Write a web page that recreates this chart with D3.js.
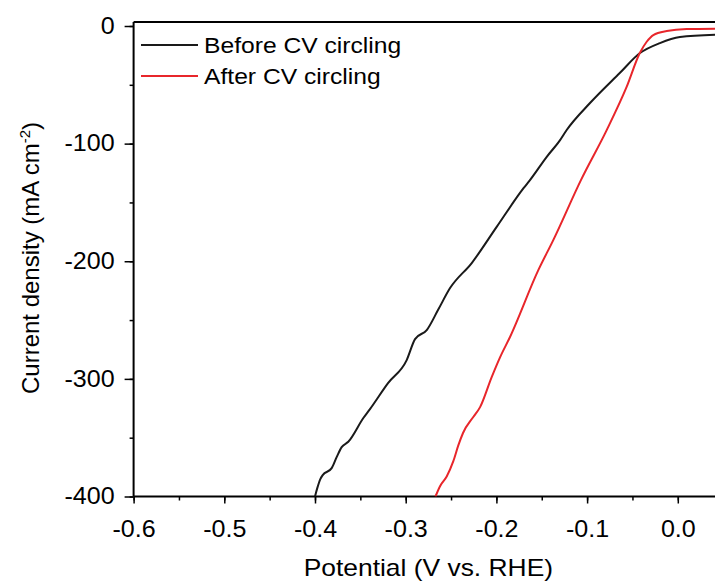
<!DOCTYPE html>
<html>
<head>
<meta charset="utf-8">
<script src="https://cdn.jsdelivr.net/npm/d3@7"></script>
<style>
  body { margin: 0; background: #fff; }
  text { font-family: "Liberation Sans", Arial, sans-serif; fill: #000; }
</style>
</head>
<body>
<div id="display"></div>
<script>
const W = 715, H = 583
const margin = {top: 22, left: 133.6, bottom: 86.5}

// potential (V vs RHE) and current density (mA cm-2)
const beforeV = [-0.400, -0.3975, -0.394, -0.3915, -0.3816, -0.376, -0.3706, -0.3633, -0.3467, -0.3394,
  -0.3195, -0.2989, -0.2897, -0.2768, -0.2644, -0.2511, -0.2272, -0.1997, -0.1703, -0.163, -0.1445,
  -0.1298, -0.1225, -0.0968, -0.064, -0.0417, -0.0197, 0.0024, 0.041]
const beforeJ = [-400, -392.9, -385, -381.8, -375.9, -366.3, -358, -353.5, -333.3, -325.7,
  -303.6, -284, -266.2, -258.5, -241.5, -222.8, -201.5, -170.8, -138.1, -131, -111.2,
  -97, -88.4, -65.5, -40, -23, -14.5, -9.4, -7.4]

const afterV = [-0.2672, -0.262, -0.2548, -0.2475, -0.242, -0.2368, -0.2255, -0.218, -0.2052, -0.196,
  -0.185, -0.1538, -0.1373, -0.1068, -0.0784, -0.0563, -0.0419, -0.0343, -0.027, -0.0122, 0.0098, 0.041]
const afterJ = [-400, -391, -383, -370, -356.6, -346, -332.4, -324, -298.5, -281.7,
  -264.4, -207.6, -182, -131, -88.5, -51.6, -23, -13.4, -7.7, -4.3, -2.6, -2.3]

const seriesNames = ["Before CV circling", "After CV circling"]
const seriesColors = ["#1a1a1a", "#e8262b"]

const xTicks = [-0.6, -0.5, -0.4, -0.3, -0.2, -0.1, 0.0]
const yTicks = [0, -100, -200, -300, -400]

const x = d3.scaleLinear().domain([-0.6, 0.05]).range([margin.left, margin.left + 0.65 * 907])
const y = d3.scaleLinear().domain([-400, 3.4]).range([H - margin.bottom, margin.top])

const svg = d3.select('#display').append('svg')
  .attr('width', W)
  .attr('height', H)

const x0 = x(-0.6), x1 = x(0.05), yB = y(-400), yT = y(3.4)

// the source text is a bit wider than Liberation Sans, stretch it
function stretch(sel, k) {
  sel.each(function() {
    const l = this.getComputedTextLength()
    this.setAttribute('textLength', l * k)
    this.setAttribute('lengthAdjust', 'spacingAndGlyphs')
  })
}

// frame
svg.append('line').attr('x1', x0).attr('x2', x1).attr('y1', yT).attr('y2', yT)
  .attr('stroke', '#000').attr('stroke-width', 2)

// x axis
const xAxis = svg.append('g').attr('transform', 'translate(0,' + yB + ')')
xAxis.call(d3.axisBottom(x).tickValues(d3.range(-0.6, 0.051, 0.05)).tickSize(4).tickFormat(''))
xAxis.call(g => g.selectAll('.tick line').attr('stroke-width', 1.5))
const xAxisMajor = svg.append('g').attr('transform', 'translate(0,' + yB + ')')
  .call(d3.axisBottom(x).tickValues(xTicks).tickSize(7).tickPadding(17).tickFormat(d3.format('.1f')))
xAxisMajor.select('.domain').remove()
xAxisMajor.selectAll('.tick line').attr('stroke-width', 1.5)
xAxisMajor.selectAll('text').style('font-size', '23px')
  .text(d => d3.format('.1f')(d).replace('−', '-'))
  .call(stretch, 1.09)
xAxis.select('.domain').attr('stroke-width', 2).attr('d', 'M' + x0 + ',0H' + x1)

// y axis
const yAxis = svg.append('g').attr('transform', 'translate(' + x0 + ',0)')
yAxis.call(d3.axisLeft(y).tickValues(d3.range(-400, 1, 50)).tickSize(4).tickFormat(''))
yAxis.selectAll('.tick line').attr('stroke-width', 1.5)
yAxis.select('.domain').attr('stroke-width', 2).attr('d', 'M0,' + yB + 'V' + yT)
const yAxisMajor = svg.append('g').attr('transform', 'translate(' + x0 + ',0)')
  .call(d3.axisLeft(y).tickValues(yTicks).tickSize(9).tickPadding(10))
yAxisMajor.select('.domain').remove()
yAxisMajor.selectAll('.tick line').attr('stroke-width', 1.5)
yAxisMajor.selectAll('text').style('font-size', '23px')
  .text(d => String(d))
  .call(stretch, 1.09)

// axis titles
svg.append('text')
  .attr('x', (x0 + x1) / 2).attr('y', 576)
  .attr('text-anchor', 'middle')
  .style('font-size', '24px')
  .text('Potential (V vs. RHE)')
  .call(stretch, 1.1)

const yLab = svg.append('text')
  .attr('transform', 'translate(39,258) rotate(-90)')
  .attr('text-anchor', 'middle')
  .style('font-size', '24px')
yLab.append('tspan').text('Current density (mA cm')
yLab.append('tspan').attr('dy', -9).style('font-size', '15px').text('-2')
yLab.append('tspan').attr('dy', 9).text(')')

// curves
const line = d3.line().x(d => x(d[0])).y(d => y(d[1])).curve(d3.curveMonotoneX)
const series = [d3.zip(beforeV, beforeJ), d3.zip(afterV, afterJ)]

svg.append('clipPath').attr('id', 'clip')
  .append('rect').attr('x', x0).attr('y', yT).attr('width', x1 - x0).attr('height', yB - yT)

svg.append('g').attr('clip-path', 'url(#clip)')
  .selectAll('path').data(series).enter()
  .append('path')
    .attr('d', d => line(d))
    .attr('fill', 'none')
    .attr('stroke', (d, i) => seriesColors[i])
    .attr('stroke-width', 2)
    .attr('stroke-linejoin', 'round')

// legend
const legend = svg.selectAll('.legend').data(seriesNames).enter()
  .append('g').attr('transform', (d, i) => 'translate(141,' + (45 + i * 31) + ')')
legend.append('line').attr('x1', 0).attr('x2', 57)
  .attr('stroke', (d, i) => seriesColors[i]).attr('stroke-width', 2)
legend.append('text').attr('x', 63).attr('y', 8)
  .style('font-size', '22px')
  .text(d => d)
  .call(stretch, 1.12)
</script>
</body>
</html>
